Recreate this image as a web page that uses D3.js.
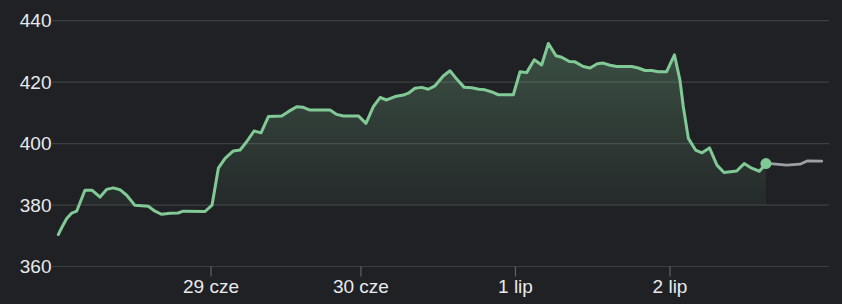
<!DOCTYPE html>
<html>
<head>
<meta charset="utf-8">
<script src="https://cdn.jsdelivr.net/npm/d3@7"></script>
<style>
  html, body { margin: 0; padding: 0; background: #202124; }
  svg { display: block; }
  text { font-family: "Liberation Sans", Arial, sans-serif; }
</style>
</head>
<body>
<svg id="chart" width="842" height="304"></svg>
<script>
// ---- data (time in trading-day units from start of first day) ----
const times = [0.002,0.024,0.057,0.090,0.122,0.176,0.224,0.275,0.318,0.361,0.405,0.449,0.503,0.590,0.634,0.678,0.732,0.784,0.819,0.961,1.007,1.048,1.092,1.146,1.190,1.233,1.281,1.327,1.375,1.462,1.505,1.560,1.603,1.647,1.778,1.822,1.865,1.963,2.013,2.061,2.105,2.148,2.203,2.257,2.290,2.333,2.377,2.420,2.464,2.518,2.562,2.606,2.655,2.704,2.752,2.791,2.835,2.878,2.976,3.020,3.063,3.113,3.161,3.205,3.255,3.292,3.342,3.379,3.433,3.477,3.525,3.564,3.608,3.652,3.750,3.793,3.837,3.880,3.924,3.978,4.029,4.065,4.087,4.120,4.167,4.209,4.258,4.307,4.353,4.436,4.485,4.534,4.584,4.627];
const prices = [370.4,372.6,375.6,377.4,378.0,384.8,384.8,382.6,385.1,385.6,385.0,383.2,379.9,379.6,378.0,377.0,377.3,377.4,378.0,377.9,380.0,392.0,395.2,397.6,397.9,400.6,404.1,403.5,408.8,409.0,410.4,412.0,411.8,410.9,410.9,409.5,409.0,409.0,406.6,412.0,415.0,414.2,415.3,415.8,416.4,418.0,418.3,417.7,418.8,422.0,423.7,421.0,418.3,418.2,417.7,417.5,416.8,415.9,415.9,423.4,423.1,427.3,425.6,432.6,428.6,428.1,426.7,426.6,425.1,424.6,426.0,426.2,425.5,425.1,425.1,424.6,423.8,423.8,423.4,423.4,428.9,420.7,412.0,401.7,397.9,397.0,398.6,393.0,390.6,391.1,393.5,392.0,391.0,393.5];
// after-hours continuation (grey)
const extTimes = [4.627,4.675,4.763,4.850,4.900,4.992];
const extPrices = [393.5,393.4,393.0,393.3,394.4,394.3];
// axes
const yTicks = [360,380,400,420,440];
const xTickPos = [1.0,1.98,2.99,4.0];
const xTickLabels = ["29 cze","30 cze","1 lip","2 lip"];
const baseValue = 380;

const svg = d3.select("#chart");
const x = d3.scaleLinear().domain([0,5]).range([58,823]);
const y = d3.scaleLinear().domain([360,440]).range([266.5,20.7]);

const main = times.map((t,i)=>({t, v:prices[i]}));
const ext = extTimes.map((t,i)=>({t, v:extPrices[i]}));

// gradient
const defs = svg.append("defs");
const grad = defs.append("linearGradient").attr("id","fillGrad")
  .attr("gradientUnits","userSpaceOnUse")
  .attr("x1",0).attr("x2",0).attr("y1",y(d3.max(prices))).attr("y2",y(baseValue));
grad.append("stop").attr("offset",0).attr("stop-color","#81c995").attr("stop-opacity",0.28);
grad.append("stop").attr("offset",1).attr("stop-color","#81c995").attr("stop-opacity",0.05);
defs.append("clipPath").attr("id","aboveBase").append("rect")
  .attr("x",0).attr("y",0).attr("width",842).attr("height",y(baseValue));

// grid
const grid = svg.append("g");
grid.selectAll("line").data(yTicks).join("line")
  .attr("x1",52).attr("x2",829)
  .attr("y1",d=>y(d)).attr("y2",d=>y(d))
  .attr("stroke","#3c4043").attr("stroke-width",1.2);

// y labels
svg.append("g").selectAll("text").data(yTicks).join("text")
  .attr("x",51.5).attr("y",d=>y(d)).attr("dy","0.35em")
  .attr("text-anchor","end").attr("fill","#e8eaed")
  .attr("font-size",19).text(d=>d);

// x ticks
const xg = svg.append("g");
xg.selectAll("line").data(xTickPos).join("line")
  .attr("x1",d=>x(d)).attr("x2",d=>x(d))
  .attr("y1",y(360)).attr("y2",y(360)+10)
  .attr("stroke","#5f6368").attr("stroke-width",1.2);
xg.selectAll("text").data(xTickPos).join("text")
  .attr("x",d=>x(d)).attr("y",292.5)
  .attr("text-anchor","middle").attr("fill","#e8eaed")
  .attr("font-size",19).text((d,i)=>xTickLabels[i]);

// area
const area = d3.area().x(d=>x(d.t)).y0(y(baseValue)).y1(d=>y(d.v));
svg.append("path").datum(main).attr("d",area)
  .attr("fill","url(#fillGrad)").attr("clip-path","url(#aboveBase)");

// lines
const line = d3.line().x(d=>x(d.t)).y(d=>y(d.v));
svg.append("path").datum(ext).attr("d",line)
  .attr("fill","none").attr("stroke","#9aa0a6").attr("stroke-width",2.8)
  .attr("stroke-linejoin","round").attr("stroke-linecap","round");
svg.append("path").datum(main).attr("d",line)
  .attr("fill","none").attr("stroke","#81c995").attr("stroke-width",3)
  .attr("stroke-linejoin","round").attr("stroke-linecap","round");

// current point
const last = main[main.length-1];
svg.append("circle").attr("cx",x(last.t)).attr("cy",y(last.v)).attr("r",5.5)
  .attr("fill","#81c995");
</script>
</body>
</html>
